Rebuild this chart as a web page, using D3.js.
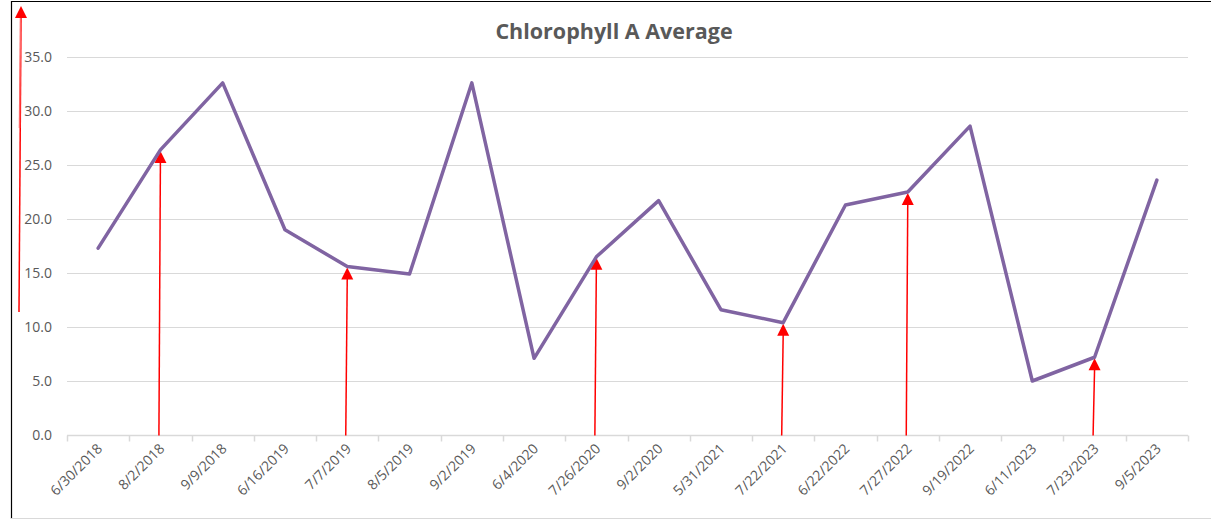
<!DOCTYPE html>
<html lang="en">
  <head>
    <meta charset="utf-8" />
    <title>Chlorophyll A Average</title>
    <script src="https://d3js.org/d3.v7.min.js"></script>
    <style>
      body {
        margin: 0;
        background: #fff;
        font-family: "Open Sans", "Noto Sans", sans-serif;
      }

      .grid line {
        stroke: #d9d9d9;
        stroke-width: 1px;
      }

      .tick-label {
        fill: #595959;
        font-size: 14px;
      }
    </style>
  </head>
  <body>
    <svg id="chart" width="1212" height="520"></svg>

    <script>
      // --------------------------------------------------
      // Data
      // --------------------------------------------------
      const dates = [
        "6/30/2018", "8/2/2018", "9/9/2018", "6/16/2019", "7/7/2019",
        "8/5/2019", "9/2/2019", "6/4/2020", "7/26/2020", "9/2/2020",
        "5/31/2021", "7/22/2021", "6/22/2022", "7/27/2022", "9/19/2022",
        "6/11/2023", "7/23/2023", "9/5/2023"
      ];

      const chlorophyll = [
        17.3, 26.4, 32.6, 19.0, 15.6, 14.9, 32.6, 7.1, 16.5,
        21.7, 11.6, 10.4, 21.3, 22.5, 28.6, 5.0, 7.2, 23.6
      ];

      const yTicks = [0, 5, 10, 15, 20, 25, 30, 35];

      // dates that carry a red arrow annotation
      const arrowDates = ["8/2/2018", "7/7/2019", "7/26/2020", "7/22/2021", "7/27/2022", "7/23/2023"];

      // --------------------------------------------------
      // Scales
      // --------------------------------------------------
      const svg = d3.select("#chart");
      const margin = { left: 67, right: 24, top: 57, bottom: 85 };
      const width = 1212, height = 520;

      const x = d3.scaleBand()
        .domain(dates)
        .range([margin.left, width - margin.right]);

      const y = d3.scaleLinear()
        .domain([0, 35])
        .range([height - margin.bottom, margin.top]);

      // outer chart frame
      svg.append("line").attr("x1", 11.5).attr("x2", 11.5).attr("y1", 1).attr("y2", 519)
        .attr("stroke", "#000").attr("stroke-width", 1.2);
      svg.append("line").attr("x1", 11).attr("x2", 1211).attr("y1", 1.5).attr("y2", 1.5)
        .attr("stroke", "#000").attr("stroke-width", 1);
      svg.append("line").attr("x1", 11).attr("x2", 1211).attr("y1", 518.5).attr("y2", 518.5)
        .attr("stroke", "#d9d9d9").attr("stroke-width", 1);

      // title
      svg.append("text")
        .attr("x", 614)
        .attr("y", 39)
        .attr("text-anchor", "middle")
        .attr("fill", "#595959")
        .attr("font-size", "21.5px")
        .attr("font-weight", "bold")
        .text("Chlorophyll A Average");

      // --------------------------------------------------
      // Gridlines + y labels
      // --------------------------------------------------
      svg.append("g")
        .attr("class", "grid")
        .selectAll("line")
        .data(yTicks.slice(1))
        .join("line")
        .attr("x1", margin.left)
        .attr("x2", width - margin.right)
        .attr("y1", (d) => Math.round(y(d)) + 0.5)
        .attr("y2", (d) => Math.round(y(d)) + 0.5);

      svg.append("g")
        .selectAll("text")
        .data(yTicks)
        .join("text")
        .attr("class", "tick-label")
        .attr("x", 52)
        .attr("y", (d) => y(d) + 5)
        .attr("text-anchor", "end")
        .text((d) => d.toFixed(1));

      // --------------------------------------------------
      // X axis (category boundaries as ticks)
      // --------------------------------------------------
      const axisY = Math.round(y(0)) + 0.5;
      svg.append("line")
        .attr("x1", margin.left)
        .attr("x2", width - margin.right)
        .attr("y1", axisY)
        .attr("y2", axisY)
        .attr("stroke", "#d9d9d9")
        .attr("stroke-width", 1.5);

      const bounds = dates.map((d) => x(d)).concat([x.range()[1]]);
      svg.append("g")
        .selectAll("line")
        .data(bounds)
        .join("line")
        .attr("x1", (d) => Math.round(d) + 0.5)
        .attr("x2", (d) => Math.round(d) + 0.5)
        .attr("y1", axisY)
        .attr("y2", axisY + 6)
        .attr("stroke", "#d9d9d9")
        .attr("stroke-width", 1.5);

      svg.append("g")
        .selectAll("text")
        .data(dates)
        .join("text")
        .attr("class", "tick-label")
        .attr("text-anchor", "end")
        .attr("transform", (d) => {
          const cx = x(d) + x.bandwidth() / 2 + 5;
          return `translate(${cx},${axisY + 14}) rotate(-45)`;
        })
        .text((d) => d);

      // --------------------------------------------------
      // Red arrows (drawn under the line)
      // --------------------------------------------------
      const cx = (d) => x(d) + x.bandwidth() / 2;
      const valueOf = (d) => chlorophyll[dates.indexOf(d)];

      const arrows = svg.append("g");
      arrowDates.forEach((d) => {
        const px = cx(d);
        const tipY = y(valueOf(d)) + 1;
        arrows.append("line")
          .attr("x1", px - 1.5)
          .attr("y1", axisY)
          .attr("x2", px)
          .attr("y2", tipY + 10)
          .attr("stroke", "#ff0000")
          .attr("stroke-width", 1.5);
        arrows.append("path")
          .attr("d", `M${px},${tipY} L${px - 6},${tipY + 12} L${px + 6},${tipY + 12} Z`)
          .attr("fill", "#ff0000");
      });

      // stray arrow on the left edge
      arrows.append("line")
        .attr("x1", 19).attr("y1", 312).attr("x2", 21).attr("y2", 18)
        .attr("stroke", "#ff0000").attr("stroke-width", 1.5);
      arrows.append("line")
        .attr("x1", 19.5).attr("y1", 128).attr("x2", 20.5).attr("y2", 18)
        .attr("stroke", "#ff6666").attr("stroke-width", 1.5);
      arrows.append("path")
        .attr("d", "M21,6 L15,18 L27,18 Z")
        .attr("fill", "#ff0000");

      // --------------------------------------------------
      // Line
      // --------------------------------------------------
      const line = d3.line()
        .x((d, i) => cx(dates[i]))
        .y((d) => y(d));

      svg.append("path")
        .datum(chlorophyll)
        .attr("fill", "none")
        .attr("stroke", "#8064a2")
        .attr("stroke-width", 3.5)
        .attr("stroke-linejoin", "round")
        .attr("stroke-linecap", "round")
        .attr("d", line);
    </script>
  </body>
</html>
